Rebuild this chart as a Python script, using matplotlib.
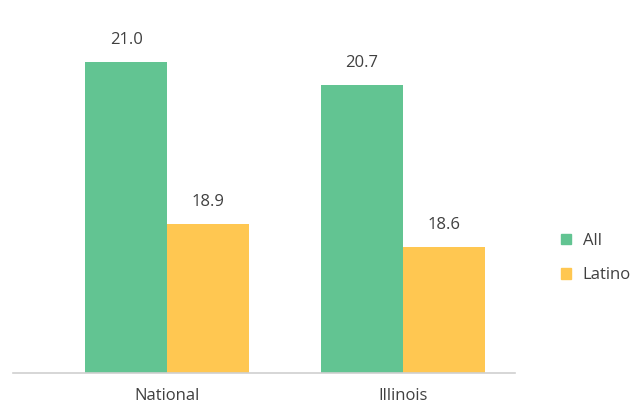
import numpy as np
import matplotlib.pyplot as plt
from matplotlib.patches import Patch

categories = ["National", "Illinois"]
all_values = [21.0, 20.7]
latino_values = [18.9, 18.6]
series_names = ["All", "Latino"]
colors = ["#62C492", "#FFC751"]
text_color = "#404040"

plt.rcParams['font.family'] = ['Open Sans', 'DejaVu Sans']

fig = plt.figure(figsize=(6.42, 4.07), dpi=100)
ax = fig.add_axes([13 / 642, 34 / 407, 502 / 642, 373 / 407])

x = np.arange(len(categories))
width = 0.347

for offset, vals, name, color in [(-width / 2, all_values, series_names[0], colors[0]),
                                  (width / 2, latino_values, series_names[1], colors[1])]:
    bars = ax.bar(x + offset, vals, width, color=color, label=name)
    for b, v in zip(bars, vals):
        ax.annotate(f"{v:.1f}", (b.get_x() + b.get_width() / 2, v),
                    xytext=(0, 13), textcoords="offset points",
                    ha="center", va="baseline", fontsize=12, color=text_color)

ax.set_ylim(16.96, 21.81)
ax.set_xlim(-0.653, 1.475)
ax.set_xticks(x)
ax.set_xticklabels(categories, fontsize=12, color=text_color)
ax.tick_params(axis="x", length=0, pad=11)
ax.set_yticks([])
for s in ["top", "right", "left"]:
    ax.spines[s].set_visible(False)
ax.spines["bottom"].set_color("#D0D0D0")
ax.spines["bottom"].set_linewidth(1.2)

handles = [Patch(color=c, label=n) for c, n in zip(colors, series_names)]
fig.legend(handles=handles, loc="center left", bbox_to_anchor=(561 / 642, 1 - 258 / 407),
           frameon=False, fontsize=12, labelcolor=text_color, borderpad=0, borderaxespad=0,
           handlelength=0.6, handleheight=0.6, handletextpad=0.7, labelspacing=1.1)

fig.savefig("out.png", dpi=100)
